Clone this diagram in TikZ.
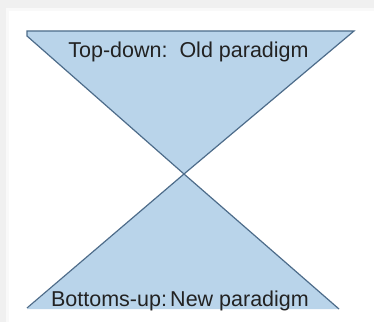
\documentclass[tikz,border=0pt]{standalone}
\usepackage{fontspec}
\setmainfont{Liberation Sans}
\definecolor{trifill}{HTML}{B9D4EA}
\definecolor{triline}{HTML}{4D6C8A}
\definecolor{txt}{HTML}{222222}
\tikzset{
  tri/.style={fill=trifill},
  edge/.style={draw=triline, line width=1.2pt, line join=miter},
  lbl/.style={font=\fontsize{21.5}{25}\selectfont, text=txt, anchor=base, inner sep=0pt}
}
\begin{document}
\begin{tikzpicture}[x=1pt,y=1pt]
\useasboundingbox (0,0) rectangle (374,322);
% frame with shadow
\fill[gray!12] (0,0) rectangle (374,322);
\fill[gray!5] (6,0) rectangle (374,314);
\fill[white] (9,0) rectangle (374,311);
% top triangle
\fill[tri] (27,291) -- (354,291) -- (184,148) -- (27,286) -- cycle;
\draw[edge] (27,286) -- (27,291) -- (354,291) -- (184,148) -- cycle;
% bottom triangle
\fill[tri] (184,148) -- (339,13) -- (27,13) -- cycle;
\draw[edge] (27,14) -- (184,148) -- (339,13);
% labels
\node[lbl] (top) at (188.5,265) {Top-down:\ \ Old paradigm};
\node[lbl] (bot) at (180,16) {Bottoms-up:\hspace{0.15em}New paradigm};
\end{tikzpicture}
\end{document}
